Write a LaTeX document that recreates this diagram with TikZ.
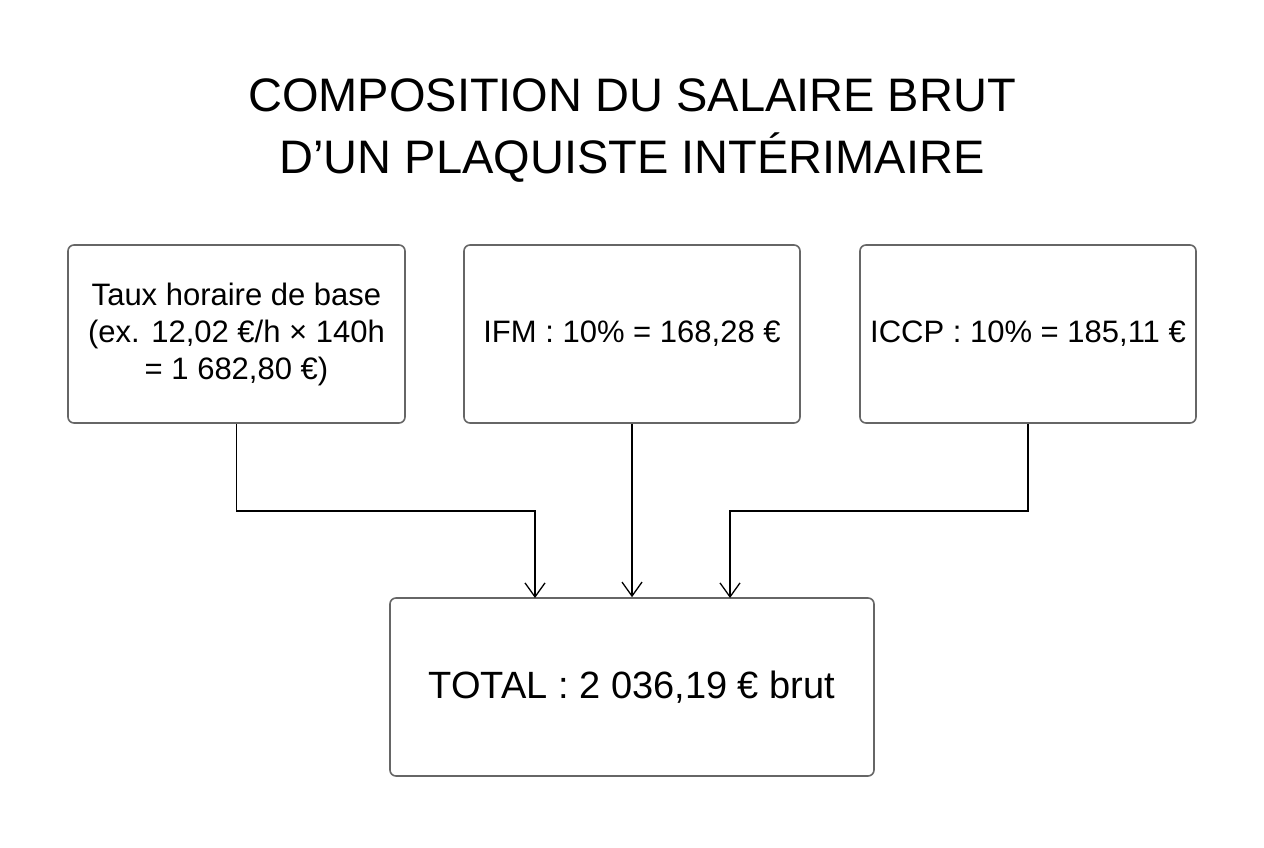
\documentclass[tikz,border=0pt]{standalone}
\usepackage{fontspec}
\setmainfont{Liberation Sans}
\usetikzlibrary{arrows.meta}
\definecolor{boxgray}{HTML}{666666}
\tikzset{
  x=1pt, y=-1pt,
  infobox/.style={draw=boxgray, line width=1.6pt, rounded corners=6pt, fill=white, align=center, inner sep=0pt},
  conn/.style={draw=black, line width=1.3pt, -{Straight Barb[length=14pt,width=20pt,line width=1.3pt]}},
}
\begin{document}
\begin{tikzpicture}
\useasboundingbox[fill=white] (0,0) rectangle (1264,848);
\node[font=\fontsize{47}{62}\selectfont, align=center] (title) at (632,131) {COMPOSITION DU SALAIRE BRUT\\D’UN PLAQUISTE INTÉRIMAIRE};
\node[infobox, minimum width=337pt, minimum height=178pt, font=\fontsize{31}{37}\selectfont] (base) at (236.5,334) {Taux horaire de base\\(ex. 12,02 €/h × 140h\\= 1 682,80 €)};
\node[infobox, minimum width=336pt, minimum height=178pt, font=\fontsize{31}{37}\selectfont] (ifm) at (632,334) {IFM : 10\% = 168,28 €};
\node[infobox, minimum width=336pt, minimum height=178pt, font=\fontsize{31}{37}\selectfont] (iccp) at (1028,334) {ICCP : 10\% = 185,11 €};
\node[infobox, minimum width=484pt, minimum height=178pt, font=\fontsize{38}{44}\selectfont] (total) at (632,687) {TOTAL : 2 036,19 € brut};
\coordinate (t1) at (535,598);
\coordinate (t3) at (730,598);
\draw[conn] (base.south) |- (535,511) -- (t1);
\draw[conn] (ifm.south) -- (total.north);
\draw[conn] (iccp.south) |- (730,511) -- (t3);
\end{tikzpicture}
\end{document}
